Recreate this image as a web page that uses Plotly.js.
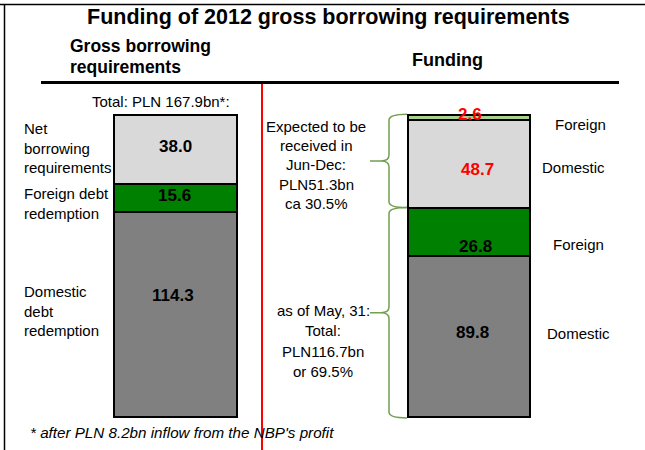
<!DOCTYPE html>
<html>
<head>
<meta charset="utf-8">
<script src="https://cdn.plot.ly/plotly-3.0.1.min.js"></script>
<style>
  html, body { margin: 0; padding: 0; background: #fff; }
  #chart { width: 645px; height: 450px; }
</style>
</head>
<body>
<div id="chart"></div>
<script>
// ---- data (PLN bn) ----
const categories = ["Gross borrowing requirements", "Funding"];
const domestic   = [114.3, 89.8];   // domestic debt redemption / domestic funding
const foreign    = [15.6, 26.8];    // foreign debt redemption / foreign funding
const netOrDomesticExpected = [38.0, 48.7]; // net borrowing req. / domestic funding expected
const foreignExpected = [null, 2.6];        // foreign funding expected

const leftLabels  = ["Domestic<br>debt<br>redemption", "Foreign debt<br>redemption", "Net<br>borrowing<br>requirements"];
const rightLabels = ["Domestic", "Foreign", "Domestic", "Foreign"];
const expectedText = ["Expected to be", "received in", "Jun-Dec:", "PLN51.3bn", "ca 30.5%"];
const realisedText = ["as of May, 31:", "Total:", "PLN116.7bn", "or 69.5%"];
const totalText = "Total: PLN 167.9bn*:";
const footnote = "* after PLN 8.2bn inflow from the NBP's profit";

// ---- geometry helpers (page is 645x450, plot area fills it) ----
const W = 645, H = 450;
const X_RANGE = [-0.598, 1.5997];
const Y_RANGE = [-18.37, 232.18];
const px2x = px => X_RANGE[0] + px / W * (X_RANGE[1] - X_RANGE[0]);
const px = x => x / W;          // paper x
const py = y => 1 - y / H;      // paper y

const FONT = '"Liberation Sans", Arial, sans-serif';
const C_GRAY = "#808080", C_GREEN = "#008000", C_LGRAY = "#d9d9d9", C_LGREEN = "#a9d18e";
const barLine = { color: "#000", width: 2 };

function barTrace(vals, color) {
  return {
    type: "bar", x: categories, y: vals, width: 0.419,
    marker: { color: color, line: barLine },
    hoverinfo: "skip", showlegend: false
  };
}
const traces = [
  barTrace(domestic, C_GRAY),
  barTrace(foreign, C_GREEN),
  barTrace(netOrDomesticExpected, C_LGRAY),
  barTrace(foreignExpected, C_LGREEN)
];

// ---- value labels on the segments ----
const layers = [domestic, foreign, netOrDomesticExpected, foreignExpected];
const labelColor = [["#000", "#000"], ["#000", "#000"], ["#000", "#ff0000"], [null, "#ff0000"]];
const labelShiftY = [[18.6, 3.7], [2, -15], [2.6, -6], [0, 3.6]];
const labelShiftX = [[-3, 3.5], [-1.5, 7], [-0.5, 9], [0, 1]];
const annotations = [];
for (let c = 0; c < categories.length; c++) {
  let base = 0;
  layers.forEach((layer, k) => {
    const v = layer[c];
    if (v == null) return;
    annotations.push({
      x: c, y: base + v / 2, xref: "x", yref: "y",
      text: "<b>" + v.toFixed(1) + "</b>", showarrow: false,
      xshift: labelShiftX[k][c], yshift: labelShiftY[k][c],
      font: { family: FONT, size: 17, color: labelColor[k][c] }
    });
    base += v;
  });
}

function note(text, x, y, opts) {
  annotations.push(Object.assign({
    x: px(x), y: py(y), xref: "paper", yref: "paper", text: text,
    showarrow: false, xanchor: "center", yanchor: "middle",
    font: { family: FONT, size: 15, color: "#000" }
  }, opts || {}));
}

// titles
note("<b>Funding of 2012 gross borrowing requirements</b>", 328, 17, { font: { family: FONT, size: 21.5, color: "#000" } });
note("<b>Gross borrowing</b>", 68, 46.5, { xanchor: "left", font: { family: FONT, size: 17.5, color: "#000" } });
note("<b>requirements</b>", 68, 66.5, { xanchor: "left", font: { family: FONT, size: 17.5, color: "#000" } });
note("<b>Funding</b>", 447, 60, { font: { family: FONT, size: 18, color: "#000" } });
note(totalText, 161, 101);

// left category labels
note(leftLabels[2], 22, 148, { xanchor: "left", align: "left" });
note(leftLabels[1], 22, 203, { xanchor: "left", align: "left" });
note(leftLabels[0], 22, 311, { xanchor: "left", align: "left" });

// right category labels
note(rightLabels[3], 580, 124);
note(rightLabels[2], 573, 168);
note(rightLabels[1], 578, 245);
note(rightLabels[0], 578, 333);

// brace texts
expectedText.forEach((t, i) => note(t, 316, 126 + i * 19.4));
realisedText.forEach((t, i) => note(t, 323, 310 + i * 20.5));

// footnote
note("<i>" + footnote + "</i>", 28, 432, { xanchor: "left", font: { family: FONT, size: 15.2, color: "#000" } });

// ---- braces along the funding bar ----
const fundTotal = domestic[1] + foreign[1] + netOrDomesticExpected[1] + foreignExpected[1];
const fundRealised = domestic[1] + foreign[1];
const xEnd = px2x(407), xBody = px2x(389), xNear = px2x(381), xTip = px2x(370);
const dY = 3.3;
function brace(yTop, yBot) {
  const yM = (yTop + yBot) / 2;
  return `M${xEnd},${yTop} Q${xBody},${yTop} ${xBody},${yTop - dY} L${xBody},${yM + dY} ` +
         `Q${xBody},${yM} ${xNear},${yM} L${xTip},${yM} M${xNear},${yM} ` +
         `Q${xBody},${yM} ${xBody},${yM - dY} L${xBody},${yBot + dY} Q${xBody},${yBot} ${xEnd},${yBot}`;
}
const braceLine = { color: "#70a050", width: 1.5 };

const shapes = [
  { type: "path", xref: "x", yref: "y", path: brace(fundTotal + 0.6, fundRealised), line: braceLine },
  { type: "path", xref: "x", yref: "y", path: brace(fundRealised, -0.5), line: braceLine },
  // frame
  { type: "line", xref: "paper", yref: "paper", x0: 0, x1: 1, y0: py(4.5), y1: py(4.5), line: { color: "#000", width: 1.5 } },
  { type: "line", xref: "paper", yref: "paper", x0: px(4.5), x1: px(4.5), y0: py(4.5), y1: 0, line: { color: "#000", width: 1.5 } },
  // header rule and divider
  { type: "line", xref: "paper", yref: "paper", x0: px(41), x1: px(619), y0: py(82.5), y1: py(82.5), line: { color: "#000", width: 3 } },
  { type: "line", xref: "paper", yref: "paper", x0: px(262), x1: px(262), y0: py(84), y1: 0, line: { color: "#ff0000", width: 2 } }
];

const layout = {
  width: W, height: H,
  margin: { l: 0, r: 0, t: 0, b: 0 },
  paper_bgcolor: "#fff", plot_bgcolor: "#fff",
  barmode: "stack",
  xaxis: { range: X_RANGE, showticklabels: false, showgrid: false, zeroline: false, showline: false, ticks: "" },
  yaxis: { range: Y_RANGE, showticklabels: false, showgrid: false, zeroline: false, showline: false, ticks: "" },
  annotations: annotations,
  shapes: shapes,
  showlegend: false
};

Plotly.newPlot("chart", traces, layout, { displayModeBar: false, staticPlot: true });
</script>
</body>
</html>
